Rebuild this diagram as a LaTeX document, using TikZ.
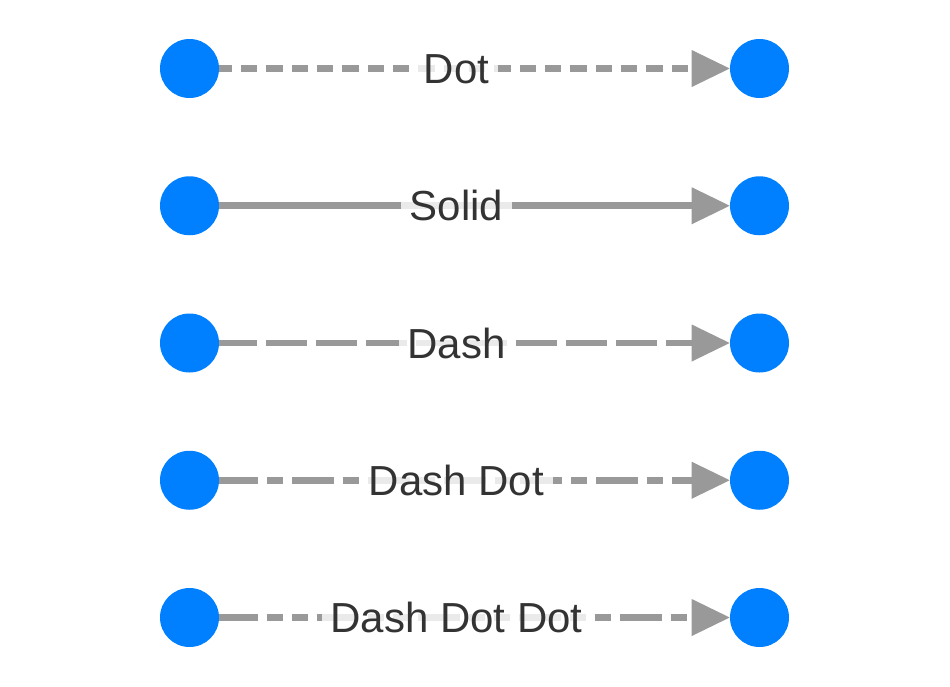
\documentclass[tikz,border=0pt]{standalone}
\usepackage{fontspec}
\setmainfont{Liberation Sans}
\usetikzlibrary{arrows.meta,calc}
\definecolor{nodeblue}{RGB}{0,128,255}
\definecolor{edgegray}{RGB}{153,153,153}
\definecolor{labeltext}{RGB}{51,51,51}
\begin{document}
\begin{tikzpicture}[x=0.75pt,y=-0.75pt,
  endpoint/.style={circle,fill=nodeblue,draw=none,minimum size=44.25pt,inner sep=0pt},
  link/.style={draw=edgegray,line width=5.1pt,
    -{Triangle[length=28.5pt,width=27.75pt,line width=0pt]}},
  lbl/.style={fill=white,fill opacity=0.8,text opacity=1,text=labeltext,
    font=\fontsize{31.5}{36}\selectfont,inner xsep=6.375pt,inner ysep=3pt,
    text height=22.5pt,text depth=0pt},
  dotpat/.style={dash pattern=on 12.25pt off 6.75pt,dash phase=2.625pt},
  dashpat/.style={dash pattern=on 30.75pt off 6.75pt,dash phase=2.625pt},
  dashdotpat/.style={dash pattern=on 31.5pt off 6.75pt on 12pt off 6.75pt,dash phase=2.625pt},
  dashdotdotpat/.style={dash pattern=on 31.5pt off 6.75pt on 12pt off 6.75pt on 12pt off 6.75pt,dash phase=2.625pt}
]
\useasboundingbox (0,0) rectangle (950,686);

\foreach \i/\y in {1/68.5,2/205.75,3/343,4/480.25,5/617.5}{
  \node[endpoint] (a\i) at (189.5,\y) {};
  \node[endpoint] (b\i) at (759.5,\y) {};
}

\draw[link,dotpat] (a1) -- (b1);
\draw[link] (a2) -- (b2);
\draw[link,dashpat] (a3) -- (b3);
\draw[link,dashdotpat] (a4) -- (b4);
\draw[link,dashdotdotpat] (a5) -- (b5);

\node[lbl] (l1) at ($(a1.east)!0.5!(b1.west)+(-18,0)$) {Dot};
\node[lbl] (l2) at ($(a2.east)!0.5!(b2.west)+(-18,0)$) {Solid};
\node[lbl] (l3) at ($(a3.east)!0.5!(b3.west)+(-18,0)$) {Dash};
\node[lbl] (l4) at ($(a4.east)!0.5!(b4.west)+(-18,0)$) {Dash Dot};
\node[lbl] (l5) at ($(a5.east)!0.5!(b5.west)+(-18,0)$) {Dash Dot Dot};
\end{tikzpicture}
\end{document}
